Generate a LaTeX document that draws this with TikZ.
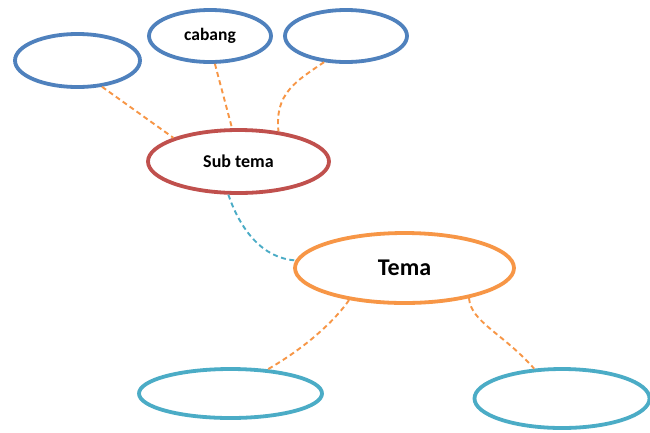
\documentclass[tikz,border=0pt]{standalone}
\usepackage{fontspec}
\setmainfont{Carlito}
\usetikzlibrary{shapes.geometric}
\definecolor{cblue}{HTML}{4F81BD}
\definecolor{cred}{HTML}{C0504D}
\definecolor{corange}{HTML}{F79646}
\definecolor{cteal}{HTML}{4BACC6}
\tikzset{
  oval/.style={ellipse, draw, line width=3.8pt, inner sep=0pt, font=\bfseries},
  link/.style={line width=1.9pt, dash pattern=on 5pt off 3.5pt},
}
\begin{document}
\begin{tikzpicture}[x={(1pt,0)}, y={(0,-1pt)}]
\useasboundingbox[fill=white] (0,0) rectangle (650,432);
% nodes
\node[oval, draw=cblue, minimum width=125pt, minimum height=53pt] (e1) at (77.5,60.5) {};
\node[oval, draw=cblue, minimum width=122pt, minimum height=52pt, font=\bfseries\fontsize{17.5}{20}\selectfont] (e2) at (210,36) {cabang};
\node[oval, draw=cblue, minimum width=122pt, minimum height=52pt] (e3) at (346,36) {};
\node[oval, draw=cred, minimum width=181pt, minimum height=63pt, font=\bfseries\fontsize{18}{21}\selectfont] (sub) at (238.5,161.5) {Sub tema};
\node[oval, draw=corange, minimum width=219pt, minimum height=70pt, font=\bfseries\fontsize{24}{28}\selectfont] (tema) at (404.5,268) {Tema};
\node[oval, draw=cteal, minimum width=183pt, minimum height=49pt] (bl) at (230.5,393.5) {};
\node[oval, draw=cteal, minimum width=175pt, minimum height=59pt] (br) at (562,398.5) {};
% connectors
\draw[link, corange] (e1.-47) -- (sub.160);
\draw[link, corange] (e2.-80) -- (sub.101);
\draw[link, corange] (e3.-130) .. controls +(-28,19) and +(-4,-38) .. (sub.37);
\draw[link, cteal] (sub.-107) .. controls +(12,35) and +(-33,-2) .. (tema.176);
\draw[link, corange] (tema.-150) .. controls +(-13,19) and +(40,-23) .. (bl.33);
\draw[link, corange] (tema.-25) .. controls +(2,24) and +(-32,-36) .. (br.133);
\end{tikzpicture}
\end{document}
